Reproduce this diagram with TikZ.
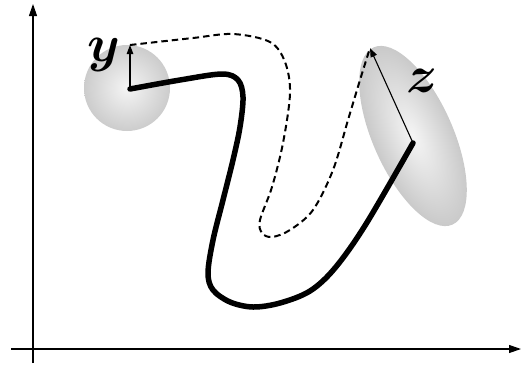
\documentclass[tikz,border=0pt]{standalone}
\usetikzlibrary{arrows.meta}
\begin{document}
\begin{tikzpicture}[x=1pt,y=-1pt,
  axis/.style={line width=1.1pt,-{Triangle[length=12pt,width=8pt]}},
  vec/.style={line width=1.1pt,-{Triangle[length=9pt,width=6.5pt]}},
  thickpath/.style={line width=5.5pt,line cap=round,line join=round},
  dashpath/.style={line width=2pt,dash pattern=on 6.5pt off 4pt},
  lab/.style={font=\Huge\boldmath,scale=2.1,inner sep=0pt,anchor=base}]
\useasboundingbox (0,0) rectangle (521,367);
% axes
\coordinate (ob) at (33,363);
\coordinate (ot) at (33,4);
\coordinate (ol) at (11,349);
\coordinate (or) at (521,349);
\draw[axis] (ob) -- (ot);
\draw[axis] (ol) -- (or);
% circle around y
\shade[inner color=gray!8,outer color=gray!40] (127,88) circle (43);
% ellipse around z
\begin{scope}[transform canvas={shift={(413pt,-136pt)},rotate=-66}]
\shade[inner color=gray!8,outer color=gray!42] (0,0) ellipse [x radius=97, y radius=40];
\end{scope}
% points
\coordinate (ys) at (130,89);
\coordinate (yt) at (130,45);
\coordinate (zs) at (413,143);
\coordinate (zt) at (370,48);
% thick curve
\draw[thickpath] plot[smooth,tension=0.55] coordinates {(130,89) (180,80) (222,74) (238,80) (243,97) (240,127) (233,160) (223,200) (213,240) (208,273) (213,290) (230,302) (253,307) (280,303) (310,291) (335,268) (366,224) (413,143)};
% dashed curve
\draw[dashpath] plot[smooth,tension=0.55] coordinates {(130,45) (193,38) (233,34) (270,42) (285,62) (290,93) (283,143) (272,187) (260,220) (262,233) (272,237) (290,230) (313,210) (333,170) (348,120) (360,80) (370,48)};
% vectors
\draw[vec] (ys) -- (yt);
\draw[vec] (zs) -- (zt);
% labels
\node[lab] (ylab) at (104,61) {$y$};
\node[lab] (zlab) at (422,92) {$z$};
\end{tikzpicture}
\end{document}
